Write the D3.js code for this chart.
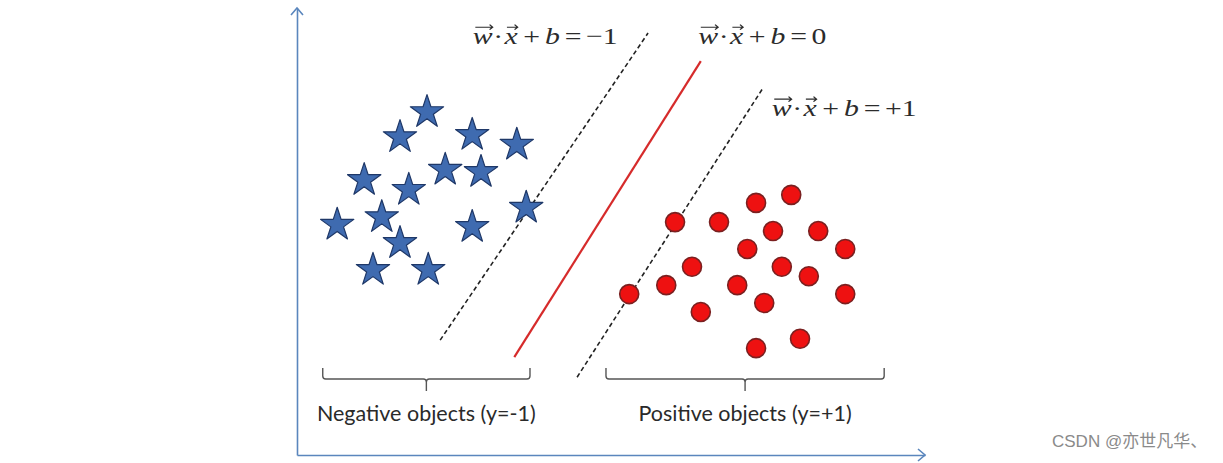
<!DOCTYPE html>
<html><head><meta charset="utf-8">
<script src="https://cdn.jsdelivr.net/npm/d3@7"></script>
<style>
html,body{margin:0;padding:0;background:#fff;}
svg{display:block;}
</style></head>
<body><svg id="c" width="1223" height="463"></svg>
<script>
// ---- data (abstract units 0..100) ----
const starX = [20.7,16.4,27.9,35.0,10.7,17.8,23.6,29.3,36.5,6.4,13.5,27.9,16.4,12.1,20.9];
const starY = [76.7,71.1,71.6,69.4,61.5,59.3,63.8,63.3,55.3,51.5,53.2,51.0,47.4,41.4,41.4];
const circX = [60.2,67.2,73.1,78.7,75.8,83.0,87.3,71.7,62.9,77.2,81.5,58.8,52.9,70.1,87.3,74.4,64.3,80.1,73.1];
const circY = [52.1,52.1,56.4,58.2,50.1,50.1,46.1,46.1,42.1,42.1,40.0,38.0,36.0,38.0,36.0,34.0,32.0,26.0,23.9];
const lineNames = ["margin-neg","hyperplane","margin-pos"];
const lineX1 = [22.8,34.6,44.6];
const lineY1 = [25.7,21.9,17.4];
const lineX2 = [55.9,64.3,74.2];
const lineY2 = [94.4,88.1,82.1];
const eqRhs = ["\u22121","0","+1"];
const eqX = [28.0,63.9,75.6];
const eqY = [91.9,91.9,75.8];
const groupLabels = ["Negative objects (y=-1)","Positive objects (y=+1)"];
const braceX1 = [4.1,49.2];
const braceX2 = [37.1,93.5];
const watermark = "CSDN @\u4ea6\u4e16\u51e1\u534e\u3001";

const svg = d3.select("#c");
const x = d3.scaleLinear().domain([0,100]).range([297,925]);
const y = d3.scaleLinear().domain([0,100]).range([455,8]);
const axisColor = "#5a86bd";

// axes (no ticks) with arrow heads
const gx = svg.append("g").attr("transform",`translate(0,${y(0)})`)
  .call(d3.axisBottom(x).tickValues([]).tickSizeOuter(0));
const gy = svg.append("g").attr("transform",`translate(${x(0)},0)`)
  .call(d3.axisLeft(y).tickValues([]).tickSizeOuter(0));
[gx,gy].forEach(g=>g.select(".domain").attr("stroke",axisColor).attr("stroke-width",1.6));
svg.append("path").attr("fill","none").attr("stroke",axisColor).attr("stroke-width",1.6)
  .attr("d",`M${x(100)-7},${y(0)-6}L${x(100)},${y(0)}L${x(100)-7},${y(0)+6}`);
svg.append("path").attr("fill","none").attr("stroke",axisColor).attr("stroke-width",1.6)
  .attr("d",`M${x(0)-6},${y(100)+7}L${x(0)},${y(100)}L${x(0)+6},${y(100)+7}`);

// lines
const lines = lineNames.map((n,i)=>({n,x1:lineX1[i],y1:lineY1[i],x2:lineX2[i],y2:lineY2[i]}));
svg.append("g").selectAll("line").data(lines).join("line")
  .attr("x1",d=>x(d.x1)).attr("y1",d=>y(d.y1)).attr("x2",d=>x(d.x2)).attr("y2",d=>y(d.y2))
  .attr("stroke",d=>d.n==="hyperplane"?"#d62b2b":"#222")
  .attr("stroke-width",d=>d.n==="hyperplane"?2.2:1.6)
  .attr("stroke-dasharray",d=>d.n==="hyperplane"?null:"4.5,3");

// stars
const star = d3.symbol().type(d3.symbolStar).size(17.5*17.5/0.8908);
svg.append("g").selectAll("path").data(starX.map((v,i)=>[v,starY[i]])).join("path")
  .attr("d",star).attr("transform",d=>`translate(${x(d[0])},${y(d[1])})`)
  .attr("fill","#3f6bb0").attr("stroke","#1f3868").attr("stroke-width",1.2).attr("stroke-linejoin","round");

// circles
svg.append("g").selectAll("circle").data(circX.map((v,i)=>[v,circY[i]])).join("circle")
  .attr("cx",d=>x(d[0])).attr("cy",d=>y(d[1])).attr("r",9.5)
  .attr("fill","#ee1111").attr("stroke","#7a2020").attr("stroke-width",1.6);

// braces
const bTop = 368, bMid = 379, bTick = 391;
const braces = svg.append("g").attr("fill","none").attr("stroke","#555").attr("stroke-width",1.4);
braceX1.forEach((b,i)=>{
  const a = x(b), c = x(braceX2[i]), m = (a+c)/2;
  braces.append("path").attr("d",
    `M${a},${bTop}L${a},${bMid-3}Q${a},${bMid} ${a+3},${bMid}L${m-3},${bMid}Q${m},${bMid} ${m},${bMid+3}L${m},${bTick}` +
    `M${m},${bMid+3}Q${m},${bMid} ${m+3},${bMid}L${c-3},${bMid}Q${c},${bMid} ${c},${bMid-3}L${c},${bTop}`);
  svg.append("text").attr("x",m).attr("y",421).attr("text-anchor","middle")
    .style("font-family","Lato, 'Open Sans', sans-serif").attr("font-size",21.5).attr("fill","#2a2a2a")
    .text(groupLabels[i]);
});

// equations (serif, horizontally stretched like the reference image)
const eqScaleX = 1.24;
eqRhs.forEach((r,i)=>{
  const g = svg.append("g").attr("transform",`translate(${x(eqX[i])},${y(eqY[i])}) scale(${eqScaleX},1)`);
  const t = g.append("text").attr("x",0).attr("y",0)
    .style("font-family","'Liberation Serif','Times New Roman',serif").attr("font-size",24).attr("fill","#2b2b2b");
  const parts = [
    {s:"w",it:true,arrow:true,dx:0},
    {s:"\u00b7",dx:0.5},
    {s:"x",it:true,arrow:true,dx:1},
    {s:"+",dx:4.5},
    {s:"b",it:true,dx:4},
    {s:"=",dx:4},
    {s:r,dx:3.5}
  ];
  parts.forEach(p=>t.append("tspan").attr("dx",p.dx).attr("font-style",p.it?"italic":"normal").text(p.s));
  const node = t.node();
  let ci = 0;
  parts.forEach(p=>{
    if(p.arrow){
      const e = node.getExtentOfChar(ci);
      const x0 = e.x+2, x1 = e.x+e.width, yy = -17;
      g.append("path").attr("fill","none").attr("stroke","#2b2b2b").attr("stroke-width",1.1)
        .attr("d",`M${x0},${yy}L${x1},${yy}M${x1-2.5},${yy-2.5}L${x1},${yy}L${x1-2.5},${yy+2.5}`);
    }
    ci += p.s.length;
  });
});

// watermark
svg.append("text").attr("x",1052).attr("y",447)
  .style("font-family","'Liberation Sans','Noto Sans CJK SC',sans-serif").attr("font-size",17).attr("fill","#8a8a8a")
  .text(watermark);
</script></body></html>
